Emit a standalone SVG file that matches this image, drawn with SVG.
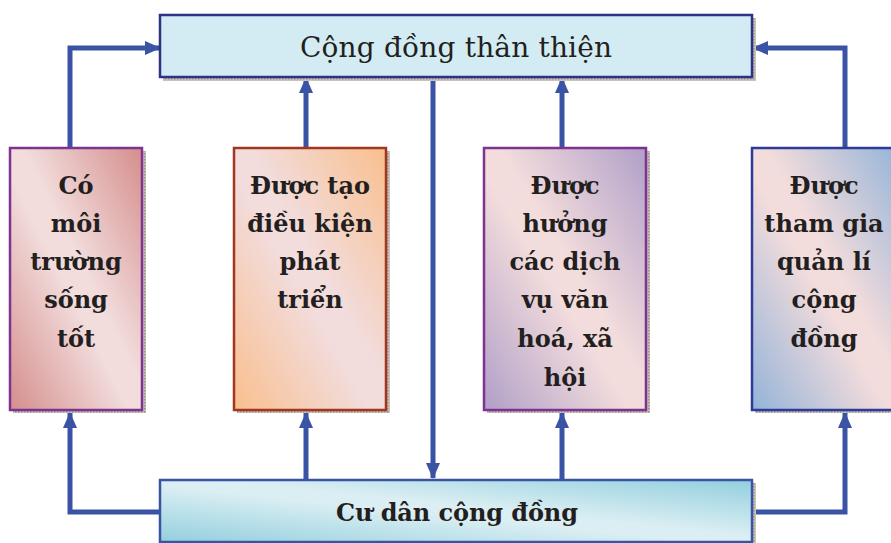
<svg xmlns="http://www.w3.org/2000/svg" width="891" height="543" viewBox="0 0 891 543">
<defs>
<linearGradient id="g1" x1="1" y1="0" x2="0" y2="1"><stop offset="0" stop-color="#d48e8c"/><stop offset="0.45" stop-color="#f2dcdc"/><stop offset="0.55" stop-color="#f2dcdc"/><stop offset="1" stop-color="#d48e8c"/></linearGradient>
<linearGradient id="g2" x1="1" y1="0" x2="0" y2="1"><stop offset="0" stop-color="#f9bf8e"/><stop offset="0.45" stop-color="#f2dcdc"/><stop offset="0.55" stop-color="#f2dcdc"/><stop offset="1" stop-color="#f9bf8e"/></linearGradient>
<linearGradient id="g3" x1="1" y1="0" x2="0" y2="1"><stop offset="0" stop-color="#b09fc8"/><stop offset="0.45" stop-color="#f2dcdc"/><stop offset="0.55" stop-color="#f2dcdc"/><stop offset="1" stop-color="#b09fc8"/></linearGradient>
<linearGradient id="g4" x1="1" y1="0" x2="0" y2="1"><stop offset="0" stop-color="#93b3d8"/><stop offset="0.45" stop-color="#f2dcdc"/><stop offset="0.55" stop-color="#f2dcdc"/><stop offset="1" stop-color="#93b3d8"/></linearGradient>
<linearGradient id="g5" x1="1" y1="0" x2="0" y2="1"><stop offset="0" stop-color="#92cfdd"/><stop offset="0.45" stop-color="#daeef3"/><stop offset="0.55" stop-color="#daeef3"/><stop offset="1" stop-color="#92cfdd"/></linearGradient>
<pattern id="sh" width="3" height="3" patternUnits="userSpaceOnUse"><rect width="3" height="3" fill="#c9c2bb"/><rect width="1.5" height="1.5" fill="#9a928c"/></pattern>
<marker id="ah" viewBox="0 0 16 14" markerWidth="16" markerHeight="14" refX="15" refY="7" orient="auto" markerUnits="userSpaceOnUse"><path d="M0,0 L16,7 L0,14 z" fill="#3a53a4"/></marker>
</defs>
<style>
.shadow{fill:url(#sh)}
.conn{fill:none;stroke:#3a53a4;stroke-width:5;marker-end:url(#ah)}
.t{font-family:"DejaVu Serif","Liberation Serif",serif;fill:#231f20;text-anchor:middle}
.tb{font-size:24px;font-weight:bold}
</style>
<rect width="891" height="543" fill="#ffffff"/>
<g id="connectors">
<path class="conn" d="M161,512 H70 V413"/>
<path class="conn" d="M70,148 V48 H160"/>
<path class="conn" d="M306,148 V78"/>
<path class="conn" d="M306,480 V413"/>
<path class="conn" d="M433,78 V478"/>
<path class="conn" d="M562,148 V78"/>
<path class="conn" d="M562,480 V413"/>
<path class="conn" d="M845,148 V48 H753"/>
<path class="conn" d="M753,512 H845 V413"/>
</g>
<g id="top">
<rect class="shadow" x="163" y="18" width="593" height="63"/>
<rect x="160" y="15" width="592" height="62" fill="#d3ecf3" stroke="#2e3286" stroke-width="2.5"/>
<text class="t" x="456" y="57" font-size="28" textLength="312">Cộng đồng thân thiện</text>
</g>
<g id="box1">
<rect class="shadow" x="13" y="151" width="133" height="262"/>
<rect x="10" y="148" width="132" height="262" fill="url(#g1)" stroke="#7f3391" stroke-width="2.5"/>
<text class="t tb" x="76" y="194">Có</text>
<text class="t tb" x="76" y="232">môi</text>
<text class="t tb" x="76" y="270">trường</text>
<text class="t tb" x="76" y="308">sống</text>
<text class="t tb" x="76" y="347">tốt</text>
</g>
<g id="box2">
<rect class="shadow" x="237" y="151" width="153" height="262"/>
<rect x="234" y="148" width="152" height="262" fill="url(#g2)" stroke="#a2371f" stroke-width="2.5"/>
<text class="t tb" x="310" y="194">Được tạo</text>
<text class="t tb" x="310" y="232">điều kiện</text>
<text class="t tb" x="310" y="270">phát</text>
<text class="t tb" x="310" y="308">triển</text>
</g>
<g id="box3">
<rect class="shadow" x="487" y="151" width="163" height="262"/>
<rect x="484" y="148" width="162" height="262" fill="url(#g3)" stroke="#7f3391" stroke-width="2.5"/>
<text class="t tb" x="565" y="194">Được</text>
<text class="t tb" x="565" y="232">hưởng</text>
<text class="t tb" x="565" y="270">các dịch</text>
<text class="t tb" x="565" y="308">vụ văn</text>
<text class="t tb" x="565" y="347">hoá, xã</text>
<text class="t tb" x="565" y="386">hội</text>
</g>
<g id="box4">
<rect class="shadow" x="755" y="151" width="150" height="262"/>
<rect x="752" y="148" width="150" height="262" fill="url(#g4)" stroke="#2e3b9a" stroke-width="2.5"/>
<text class="t tb" x="824" y="194">Được</text>
<text class="t tb" x="824" y="232">tham gia</text>
<text class="t tb" x="824" y="270">quản lí</text>
<text class="t tb" x="824" y="308">cộng</text>
<text class="t tb" x="824" y="347">đồng</text>
</g>
<g id="bottom">
<rect class="shadow" x="163" y="483" width="593" height="63"/>
<rect x="160" y="480" width="592" height="62" fill="url(#g5)" stroke="#3a53a4" stroke-width="2.5"/>
<text class="t" x="457" y="521" font-size="24" font-weight="bold" textLength="242">Cư dân cộng đồng</text>
</g>
</svg>
